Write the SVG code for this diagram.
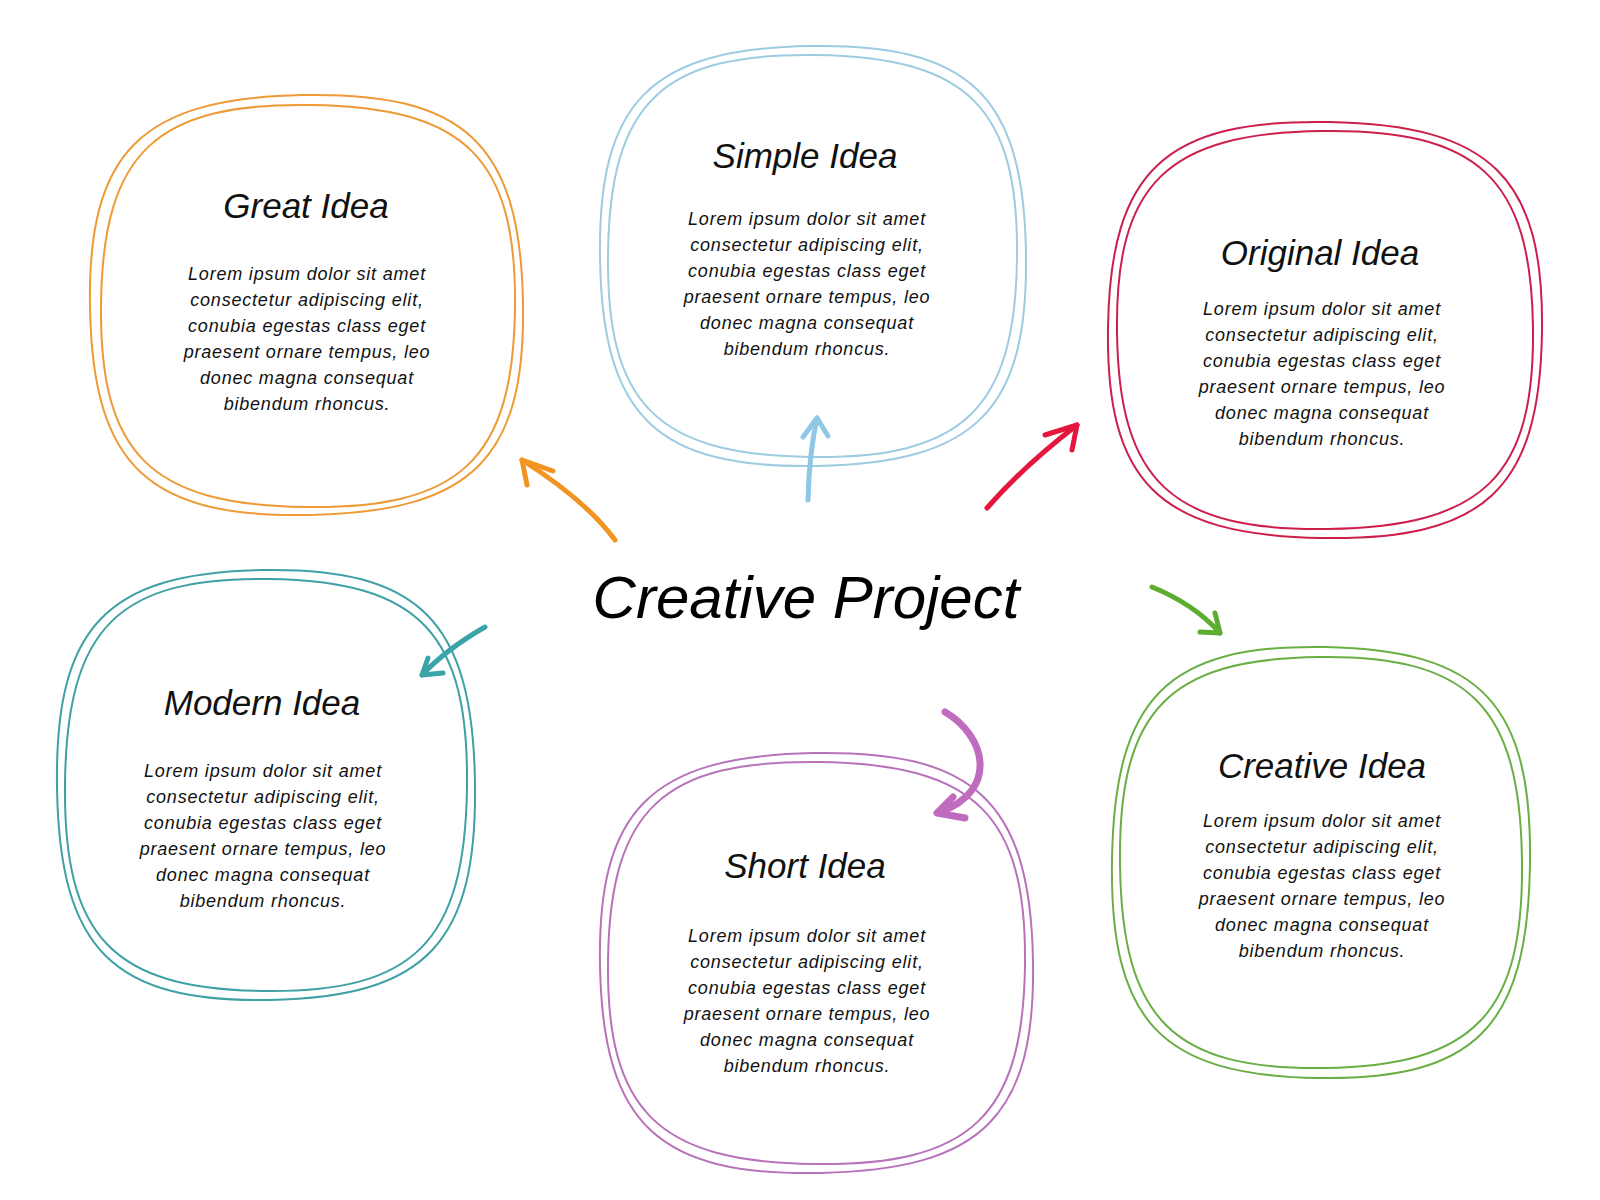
<svg xmlns="http://www.w3.org/2000/svg" width="1600" height="1200" viewBox="0 0 1600 1200">
<style>
.bg{fill:#ffffff}
.ring{fill:none;stroke-width:2;stroke-linejoin:round}
.title{font-family:"Liberation Sans",Arial,sans-serif;font-style:italic;font-size:35px;fill:#111111;text-anchor:middle}
.body{font-family:"Liberation Sans",Arial,sans-serif;font-style:italic;font-size:18px;letter-spacing:0.8px;fill:#111111;text-anchor:middle}
.main{font-family:"Liberation Sans",Arial,sans-serif;font-style:italic;font-size:60px;fill:#000000;text-anchor:middle}
.arrow{fill:none;stroke-linecap:round;stroke-linejoin:round}
.orange{stroke:#EE9A35}
.blue{stroke:#9DCCE2}
.red{stroke:#CC1F4B}
.teal{stroke:#3FA0A5}
.green{stroke:#6AAF45}
.purple{stroke:#B872BA}
</style>
<rect class="bg" x="0" y="0" width="1600" height="1200"/>

<g id="great-idea">
<path class="ring orange" transform="translate(306.5,305) rotate(-1.2)" d="M0,-210 C162,-210 216.5,-157.5 216.5,0 C216.5,157.5 162,210 0,210 C-162,210 -216.5,157.5 -216.5,0 C-216.5,-157.5 -162,-210 0,-210Z"/>
<path class="ring orange" transform="translate(308,306) rotate(0.8)" d="M0,-201 C155,-201 207,-151 207,0 C207,151 155,201 0,201 C-155,201 -207,151 -207,0 C-207,-151 -155,-201 0,-201Z"/>
<text class="title" x="306" y="218">Great Idea</text>
<text class="body" x="307" y="280">Lorem ipsum dolor sit amet</text>
<text class="body" x="307" y="306">consectetur adipiscing elit,</text>
<text class="body" x="307" y="332">conubia egestas class eget</text>
<text class="body" x="307" y="358">praesent ornare tempus, leo</text>
<text class="body" x="307" y="384">donec magna consequat</text>
<text class="body" x="307" y="410">bibendum rhoncus.</text>
</g>

<g id="simple-idea">
<path class="ring blue" transform="translate(813,256) rotate(-1)" d="M0,-210 C160,-210 213,-157.5 213,0 C213,157.5 160,210 0,210 C-160,210 -213,157.5 -213,0 C-213,-157.5 -160,-210 0,-210Z"/>
<path class="ring blue" transform="translate(812.5,256) rotate(0.8)" d="M0,-201 C153,-201 204.5,-151 204.5,0 C204.5,151 153,201 0,201 C-153,201 -204.5,151 -204.5,0 C-204.5,-151 -153,-201 0,-201Z"/>
<text class="title" x="805" y="168">Simple Idea</text>
<text class="body" x="807" y="225">Lorem ipsum dolor sit amet</text>
<text class="body" x="807" y="251">consectetur adipiscing elit,</text>
<text class="body" x="807" y="277">conubia egestas class eget</text>
<text class="body" x="807" y="303">praesent ornare tempus, leo</text>
<text class="body" x="807" y="329">donec magna consequat</text>
<text class="body" x="807" y="355">bibendum rhoncus.</text>
</g>

<g id="original-idea">
<path class="ring red" transform="translate(1325,330) rotate(1)" d="M0,-208 C163,-208 217,-156 217,0 C217,156 163,208 0,208 C-163,208 -217,156 -217,0 C-217,-156 -163,-208 0,-208Z"/>
<path class="ring red" transform="translate(1325,330) rotate(-0.8)" d="M0,-199 C156,-199 208,-149 208,0 C208,149 156,199 0,199 C-156,199 -208,149 -208,0 C-208,-149 -156,-199 0,-199Z"/>
<text class="title" x="1320" y="265">Original Idea</text>
<text class="body" x="1322" y="315">Lorem ipsum dolor sit amet</text>
<text class="body" x="1322" y="341">consectetur adipiscing elit,</text>
<text class="body" x="1322" y="367">conubia egestas class eget</text>
<text class="body" x="1322" y="393">praesent ornare tempus, leo</text>
<text class="body" x="1322" y="419">donec magna consequat</text>
<text class="body" x="1322" y="445">bibendum rhoncus.</text>
</g>

<g id="modern-idea">
<path class="ring teal" transform="translate(266,785) rotate(-1)" d="M0,-215 C157,-215 209,-161 209,0 C209,161 157,215 0,215 C-157,215 -209,161 -209,0 C-209,-161 -157,-215 0,-215Z"/>
<path class="ring teal" transform="translate(266,785) rotate(0.8)" d="M0,-206 C151,-206 201,-154.5 201,0 C201,154.5 151,206 0,206 C-151,206 -201,154.5 -201,0 C-201,-154.5 -151,-206 0,-206Z"/>
<text class="title" x="262" y="715">Modern Idea</text>
<text class="body" x="263" y="777">Lorem ipsum dolor sit amet</text>
<text class="body" x="263" y="803">consectetur adipiscing elit,</text>
<text class="body" x="263" y="829">conubia egestas class eget</text>
<text class="body" x="263" y="855">praesent ornare tempus, leo</text>
<text class="body" x="263" y="881">donec magna consequat</text>
<text class="body" x="263" y="907">bibendum rhoncus.</text>
</g>

<g id="creative-idea">
<path class="ring green" transform="translate(1321,862.5) rotate(1)" d="M0,-215.5 C157,-215.5 209,-162 209,0 C209,162 157,215.5 0,215.5 C-157,215.5 -209,162 -209,0 C-209,-162 -157,-215.5 0,-215.5Z"/>
<path class="ring green" transform="translate(1321,862.5) rotate(-0.8)" d="M0,-205.5 C151,-205.5 201,-154 201,0 C201,154 151,205.5 0,205.5 C-151,205.5 -201,154 -201,0 C-201,-154 -151,-205.5 0,-205.5Z"/>
<text class="title" x="1322" y="778">Creative Idea</text>
<text class="body" x="1322" y="827">Lorem ipsum dolor sit amet</text>
<text class="body" x="1322" y="853">consectetur adipiscing elit,</text>
<text class="body" x="1322" y="879">conubia egestas class eget</text>
<text class="body" x="1322" y="905">praesent ornare tempus, leo</text>
<text class="body" x="1322" y="931">donec magna consequat</text>
<text class="body" x="1322" y="957">bibendum rhoncus.</text>
</g>

<g id="short-idea">
<path class="ring purple" transform="translate(816.5,963) rotate(-1.2)" d="M0,-210 C162,-210 216.5,-157.5 216.5,0 C216.5,157.5 162,210 0,210 C-162,210 -216.5,157.5 -216.5,0 C-216.5,-157.5 -162,-210 0,-210Z"/>
<path class="ring purple" transform="translate(816.5,963) rotate(0.8)" d="M0,-201 C156,-201 208.5,-151 208.5,0 C208.5,151 156,201 0,201 C-156,201 -208.5,151 -208.5,0 C-208.5,-151 -156,-201 0,-201Z"/>
<text class="title" x="805" y="878">Short Idea</text>
<text class="body" x="807" y="942">Lorem ipsum dolor sit amet</text>
<text class="body" x="807" y="968">consectetur adipiscing elit,</text>
<text class="body" x="807" y="994">conubia egestas class eget</text>
<text class="body" x="807" y="1020">praesent ornare tempus, leo</text>
<text class="body" x="807" y="1046">donec magna consequat</text>
<text class="body" x="807" y="1072">bibendum rhoncus.</text>
</g>

<g id="center">
<text class="main" x="806" y="618">Creative Project</text>
</g>

<g id="connectors">
<g class="arrow" stroke="#F29422" stroke-width="5">
<path d="M615,540 Q585.5,500 522,460"/>
<path d="M553,471 L522,460 L527,485"/>
</g>
<g class="arrow" stroke="#8EC8E6" stroke-width="5">
<path d="M808,500 Q809,455 817,418"/>
<path d="M803,437 L817,418 L828,436"/>
</g>
<g class="arrow" stroke="#E4173F" stroke-width="5">
<path d="M987,508 Q1022,467.5 1077,425"/>
<path d="M1045,435 L1077,425 L1072,450"/>
</g>
<g class="arrow" stroke="#5DAE30" stroke-width="5">
<path d="M1152,587 Q1194,604 1220,633"/>
<path d="M1215,613 L1220,633 L1200,632"/>
</g>
<g class="arrow" stroke="#3AA4A8" stroke-width="5">
<path d="M485,627 Q446.5,649 422,675"/>
<path d="M428,658 L422,675 L443,673"/>
</g>
<g class="arrow" stroke="#BF6CBF" stroke-width="7">
<path d="M945,712 C985,735 1000,790 940,812"/>
<path d="M953,797 L937,813 L965,818"/>
</g>
</g>
</svg>
